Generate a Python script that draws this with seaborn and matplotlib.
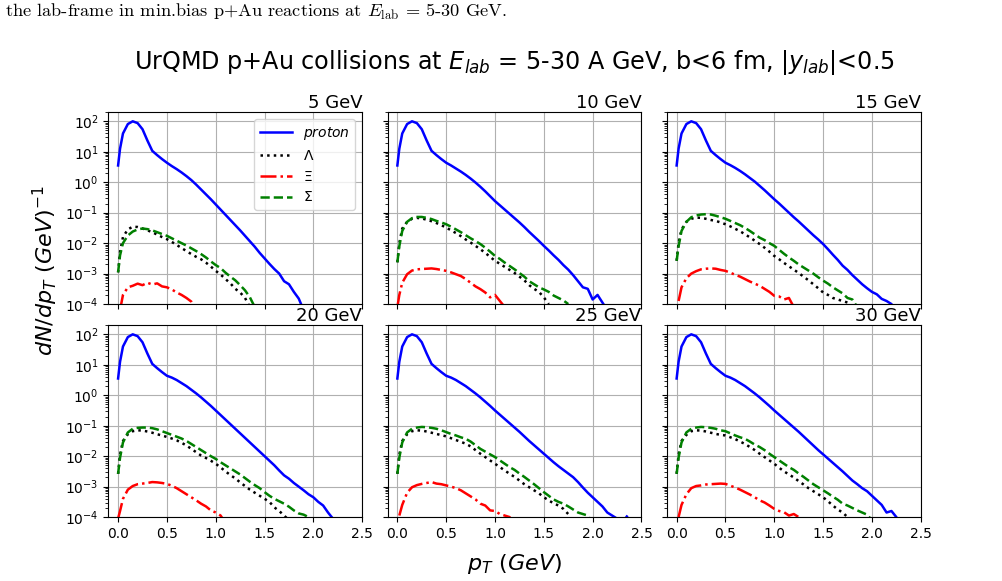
import numpy as np
import pandas as pd
import matplotlib
matplotlib.use("Agg")
import matplotlib.pyplot as plt
import seaborn as sns

nan = np.nan

# transverse-momentum grid (GeV)
pt = [0.0, 0.02, 0.05, 0.1, 0.15, 0.2, 0.25, 0.3, 0.35, 0.4, 0.45, 0.5,
      0.55, 0.6, 0.65, 0.7, 0.75, 0.8, 0.85, 0.9, 0.95, 1.0,
      1.05, 1.1, 1.15, 1.2, 1.25, 1.3, 1.35, 1.4, 1.45, 1.5,
      1.55, 1.6, 1.65, 1.7, 1.75, 1.8, 1.85, 1.9, 1.95, 2.0,
      2.05, 2.1, 2.15, 2.2, 2.25, 2.3, 2.35]

energies = ["5 GeV", "10 GeV", "15 GeV", "20 GeV", "25 GeV", "30 GeV"]

# log10(dN/dpT)
p_low = [0.55, 1.1, 1.6, 1.91, 2.0, 1.94, 1.74, 1.37, 1.03, 0.89, 0.76, 0.64]
proton_log = [
    p_low + [0.53, 0.43, 0.32, 0.2, 0.07, -0.08, -0.24, -0.4, -0.56, -0.73,
             -0.9, -1.07, -1.24, -1.41, -1.58, -1.76, -1.94, -2.12, -2.32, -2.5,
             -2.68, -2.85, -3.0, -3.25, -3.35, -3.6, -3.82, -4.2],
    p_low + [0.55, 0.45, 0.35, 0.24, 0.12, -0.01, -0.15, -0.3, -0.46, -0.62,
             -0.76, -0.9, -1.04, -1.18, -1.32, -1.47, -1.63, -1.78, -1.93, -2.09,
             -2.24, -2.4, -2.55, -2.72, -2.87, -3.05, -3.25, -3.45, -3.5, -3.85,
             -3.7, -3.95, -4.2],
    p_low + [0.56, 0.47, 0.37, 0.26, 0.14, 0.02, -0.12, -0.26, -0.41, -0.56,
             -0.7, -0.85, -1.0, -1.15, -1.29, -1.44, -1.59, -1.74, -1.88, -2.03,
             -2.2, -2.38, -2.55, -2.74, -2.88, -3.05, -3.2, -3.35, -3.48, -3.6,
             -3.68, -3.83, -3.9, -4.0, -4.3],
    p_low + [0.58, 0.5, 0.4, 0.3, 0.18, 0.06, -0.07, -0.21, -0.35, -0.5,
             -0.65, -0.8, -0.95, -1.1, -1.25, -1.4, -1.55, -1.7, -1.85, -2.0,
             -2.15, -2.3, -2.47, -2.63, -2.74, -2.88, -3.0, -3.12, -3.25, -3.35,
             -3.5, -3.62, -3.85, -4.05],
    p_low + [0.58, 0.5, 0.4, 0.3, 0.18, 0.06, -0.07, -0.21, -0.35, -0.5,
             -0.64, -0.78, -0.92, -1.06, -1.2, -1.35, -1.5, -1.64, -1.78, -1.92,
             -2.06, -2.2, -2.33, -2.45, -2.57, -2.69, -2.85, -3.03, -3.2, -3.35,
             -3.5, -3.65, -3.85, -3.95, -4.05, -4.2, -3.98],
    p_low + [0.58, 0.5, 0.4, 0.3, 0.18, 0.06, -0.07, -0.21, -0.35, -0.5,
             -0.64, -0.78, -0.92, -1.06, -1.2, -1.35, -1.5, -1.65, -1.8, -1.94,
             -2.08, -2.22, -2.36, -2.5, -2.65, -2.8, -2.92, -3.05, -3.15, -3.3,
             -3.45, -3.6, -3.85, -3.8, -4.0, -4.3],
]

lambda_log = [
    [-2.96, -2.3, -1.8, -1.55, -1.46, -1.47, -1.52, -1.58, -1.64, -1.72, -1.8, -1.87,
     -1.96, -2.06, -2.16, -2.26, -2.36, -2.45, -2.53, -2.64, -2.77, -2.91,
     -3.03, -3.18, -3.32, -3.5, -3.62, -3.8, -4.1],
    [-2.63, -2.0, -1.52, -1.3, -1.2, -1.17, -1.19, -1.23, -1.28, -1.34, -1.41, -1.49,
     -1.58, -1.67, -1.77, -1.88, -1.98, -2.09, -2.2, -2.32, -2.45, -2.58,
     -2.68, -2.78, -2.88, -2.98, -3.1, -3.22, -3.38, -3.5, -3.6, -3.78, -4.0],
    [-2.58, -2.0, -1.55, -1.3, -1.2, -1.16, -1.17, -1.2, -1.24, -1.27, -1.32, -1.38,
     -1.45, -1.53, -1.61, -1.71, -1.81, -1.92, -2.03, -2.15, -2.28, -2.42,
     -2.53, -2.65, -2.76, -2.87, -2.98, -3.1, -3.22, -3.35, -3.48, -3.62,
     -3.7, -3.8, -3.85, -3.9, -3.95, -4.1],
    [-2.58, -1.95, -1.5, -1.28, -1.18, -1.15, -1.16, -1.19, -1.23, -1.28, -1.32, -1.37,
     -1.42, -1.48, -1.56, -1.65, -1.76, -1.87, -1.98, -2.06, -2.15, -2.25,
     -2.37, -2.5, -2.62, -2.73, -2.86, -2.98, -3.1, -3.2, -3.3, -3.4,
     -3.5, -3.68, -3.8, -3.95, -4.1],
    [-2.58, -1.95, -1.5, -1.28, -1.18, -1.15, -1.16, -1.19, -1.23, -1.27, -1.31, -1.35,
     -1.41, -1.47, -1.53, -1.59, -1.68, -1.8, -1.92, -2.03, -2.14, -2.25,
     -2.36, -2.47, -2.58, -2.68, -2.8, -2.92, -3.02, -3.12, -3.22, -3.35,
     -3.45, -3.55, -3.62, -3.73, -3.9, -4.2],
    [-2.58, -1.95, -1.5, -1.3, -1.18, -1.15, -1.16, -1.19, -1.23, -1.27, -1.3, -1.32,
     -1.38, -1.44, -1.52, -1.6, -1.7, -1.8, -1.92, -2.03, -2.14, -2.25,
     -2.38, -2.5, -2.6, -2.7, -2.82, -2.93, -3.05, -3.15, -3.25, -3.35,
     -3.48, -3.62, -3.75, -3.85, -4.0, -4.2],
]

xi_log = [
    [nan, -4.2, -3.7, -3.45, -3.4, -3.33, -3.38, -3.3, -3.36, -3.32, -3.42, -3.45,
     -3.52, -3.62, -3.7, -3.8, -3.92, -4.2],
    [-4.1, -3.7, -3.3, -3.02, -2.9, -2.86, -2.85, -2.84, -2.83, -2.85, -2.88, -2.91,
     -2.96, -3.02, -3.08, -3.18, -3.3, -3.42, -3.51, -3.62, -3.78, -3.7,
     -3.9, -4.1],
    [nan, -3.9, -3.45, -3.15, -3.0, -2.92, -2.86, -2.84, -2.83, -2.84, -2.88, -2.91,
     -2.97, -3.04, -3.1, -3.18, -3.26, -3.33, -3.4, -3.5, -3.6, -3.73,
     -3.75, -3.85, -3.8, -4.1],
    [-4.05, -3.8, -3.4, -3.1, -2.98, -2.92, -2.9, -2.88, -2.85, -2.86, -2.88, -2.91,
     -2.97, -3.05, -3.15, -3.25, -3.35, -3.45, -3.56, -3.65, -3.78, -3.85,
     -3.95, -4.2],
    [nan, -3.95, -3.6, -3.2, -3.02, -2.95, -2.91, -2.88, -2.85, -2.9, -2.92, -2.96,
     -3.0, -3.05, -3.12, -3.22, -3.32, -3.42, -3.56, -3.62, -3.78, -3.8,
     -3.9, -3.95, -4.0, -4.3],
    [nan, -4.0, -3.6, -3.25, -3.05, -2.98, -2.96, -2.93, -2.92, -2.91, -2.9, -2.91,
     -2.97, -3.03, -3.1, -3.18, -3.26, -3.35, -3.45, -3.52, -3.62, -3.73,
     -3.8, -3.84, -3.95, -3.9, -4.0, -4.2],
]

sigma_log = [
    [-2.96, -2.4, -2.0, -1.75, -1.62, -1.55, -1.52, -1.54, -1.58, -1.64, -1.7, -1.76,
     -1.84, -1.92, -2.0, -2.08, -2.17, -2.26, -2.36, -2.47, -2.6, -2.72,
     -2.82, -2.97, -3.1, -3.22, -3.38, -3.55, -3.78, -4.1],
    [-2.63, -2.1, -1.6, -1.3, -1.18, -1.14, -1.14, -1.17, -1.21, -1.27, -1.32, -1.38,
     -1.46, -1.55, -1.64, -1.74, -1.84, -1.93, -2.03, -2.15, -2.28, -2.42,
     -2.52, -2.64, -2.75, -2.86, -2.98, -3.1, -3.25, -3.35, -3.45, -3.52,
     -3.6, -3.72, -3.8, -3.88, -4.0],
    [-2.58, -2.1, -1.6, -1.3, -1.15, -1.09, -1.06, -1.05, -1.06, -1.1, -1.15, -1.2,
     -1.27, -1.34, -1.41, -1.5, -1.6, -1.71, -1.82, -1.9, -2.0, -2.09,
     -2.22, -2.35, -2.47, -2.58, -2.7, -2.8, -2.9, -3.0, -3.12, -3.23,
     -3.33, -3.45, -3.55, -3.65, -3.8, -3.85, -4.1],
    [-2.58, -2.05, -1.55, -1.22, -1.1, -1.07, -1.06, -1.06, -1.08, -1.12, -1.18, -1.24,
     -1.3, -1.36, -1.42, -1.5, -1.6, -1.7, -1.8, -1.9, -2.0, -2.09,
     -2.2, -2.3, -2.4, -2.5, -2.6, -2.72, -2.84, -2.95, -3.05, -3.18,
     -3.3, -3.4, -3.48, -3.56, -3.66, -3.78, -3.88, -3.92, -4.0, -4.2],
    [-2.58, -2.05, -1.55, -1.22, -1.1, -1.06, -1.04, -1.05, -1.07, -1.1, -1.15, -1.21,
     -1.27, -1.32, -1.38, -1.43, -1.52, -1.64, -1.76, -1.85, -1.94, -2.03,
     -2.14, -2.25, -2.36, -2.45, -2.57, -2.68, -2.8, -2.92, -3.05, -3.18,
     -3.3, -3.42, -3.5, -3.56, -3.65, -3.75, -3.85, -3.9, -3.95, -4.2],
    [-2.58, -2.05, -1.55, -1.22, -1.1, -1.06, -1.04, -1.05, -1.07, -1.1, -1.15, -1.18,
     -1.25, -1.32, -1.38, -1.43, -1.52, -1.62, -1.7, -1.8, -1.92, -2.03,
     -2.14, -2.25, -2.36, -2.45, -2.57, -2.68, -2.8, -2.92, -3.02, -3.12,
     -3.22, -3.33, -3.43, -3.56, -3.62, -3.7, -3.78, -3.85, -3.92, -4.1],
]

species = [
    ("$proton$", proton_log, "blue", "-"),
    (r"$\Lambda$", lambda_log, "black", ":"),
    (r"$\Xi$", xi_log, "red", "-."),
    (r"$\Sigma$", sigma_log, "green", "--"),
]

x_ticks = [0.0, 0.5, 1.0, 1.5, 2.0, 2.5]

fig, axes = plt.subplots(2, 3, figsize=(10.03, 5.81), dpi=100,
                         sharex=True, sharey=True)
fig.subplots_adjust(left=0.108, right=0.918, top=0.807, bottom=0.110,
                    wspace=0.10, hspace=0.11)

for i, ax in enumerate(axes.flat):
    ax.set_yscale("log")
    for label, data, color, ls in species:
        vals = data[i]
        n = len(vals)
        df = pd.DataFrame({"pt": pt[:n], "y": np.power(10.0, np.array(vals, dtype=float))})
        df = df.dropna()
        sns.lineplot(data=df, x="pt", y="y", ax=ax, color=color, linestyle=ls,
                     linewidth=1.8, label=label, estimator=None, sort=False)
    ax.set_xlim(-0.1, 2.5)
    ax.set_ylim(1e-4, 2e2)
    ax.set_xticks(x_ticks)
    ax.grid(True, color="#b0b0b0", linewidth=0.8)
    ax.set_xlabel("")
    ax.set_ylabel("")
    ax.set_title(energies[i], loc="right", fontsize=13, pad=3)
    ax.tick_params(labelsize=10)
    if i == 0:
        ax.legend(loc="upper right", fontsize=10, handlelength=2.3)
    else:
        leg = ax.get_legend()
        if leg is not None:
            leg.remove()

fig.suptitle(r"UrQMD p+Au collisions at $E_{lab}$ = 5-30 A GeV, b<6 fm, $|y_{lab}|$<0.5",
             x=0.513, y=0.918, fontsize=17.2)
fig.text(0.045, 0.535, r"$dN/dp_T\ (GeV)^{-1}$", rotation=90, fontsize=16,
         ha="center", va="center")
fig.text(0.513, 0.03, r"$p_T\ (GeV)$", fontsize=16, ha="center", va="center")

fig.text(0.005, 0.979, r"the lab-frame in min.bias p+Au reactions at $E_{\rm lab}$ = 5-30 GeV.",
         fontfamily="cmr10", math_fontfamily="cm", fontsize=13.2, ha="left", va="center")

fig.savefig("out.png", dpi=100)
